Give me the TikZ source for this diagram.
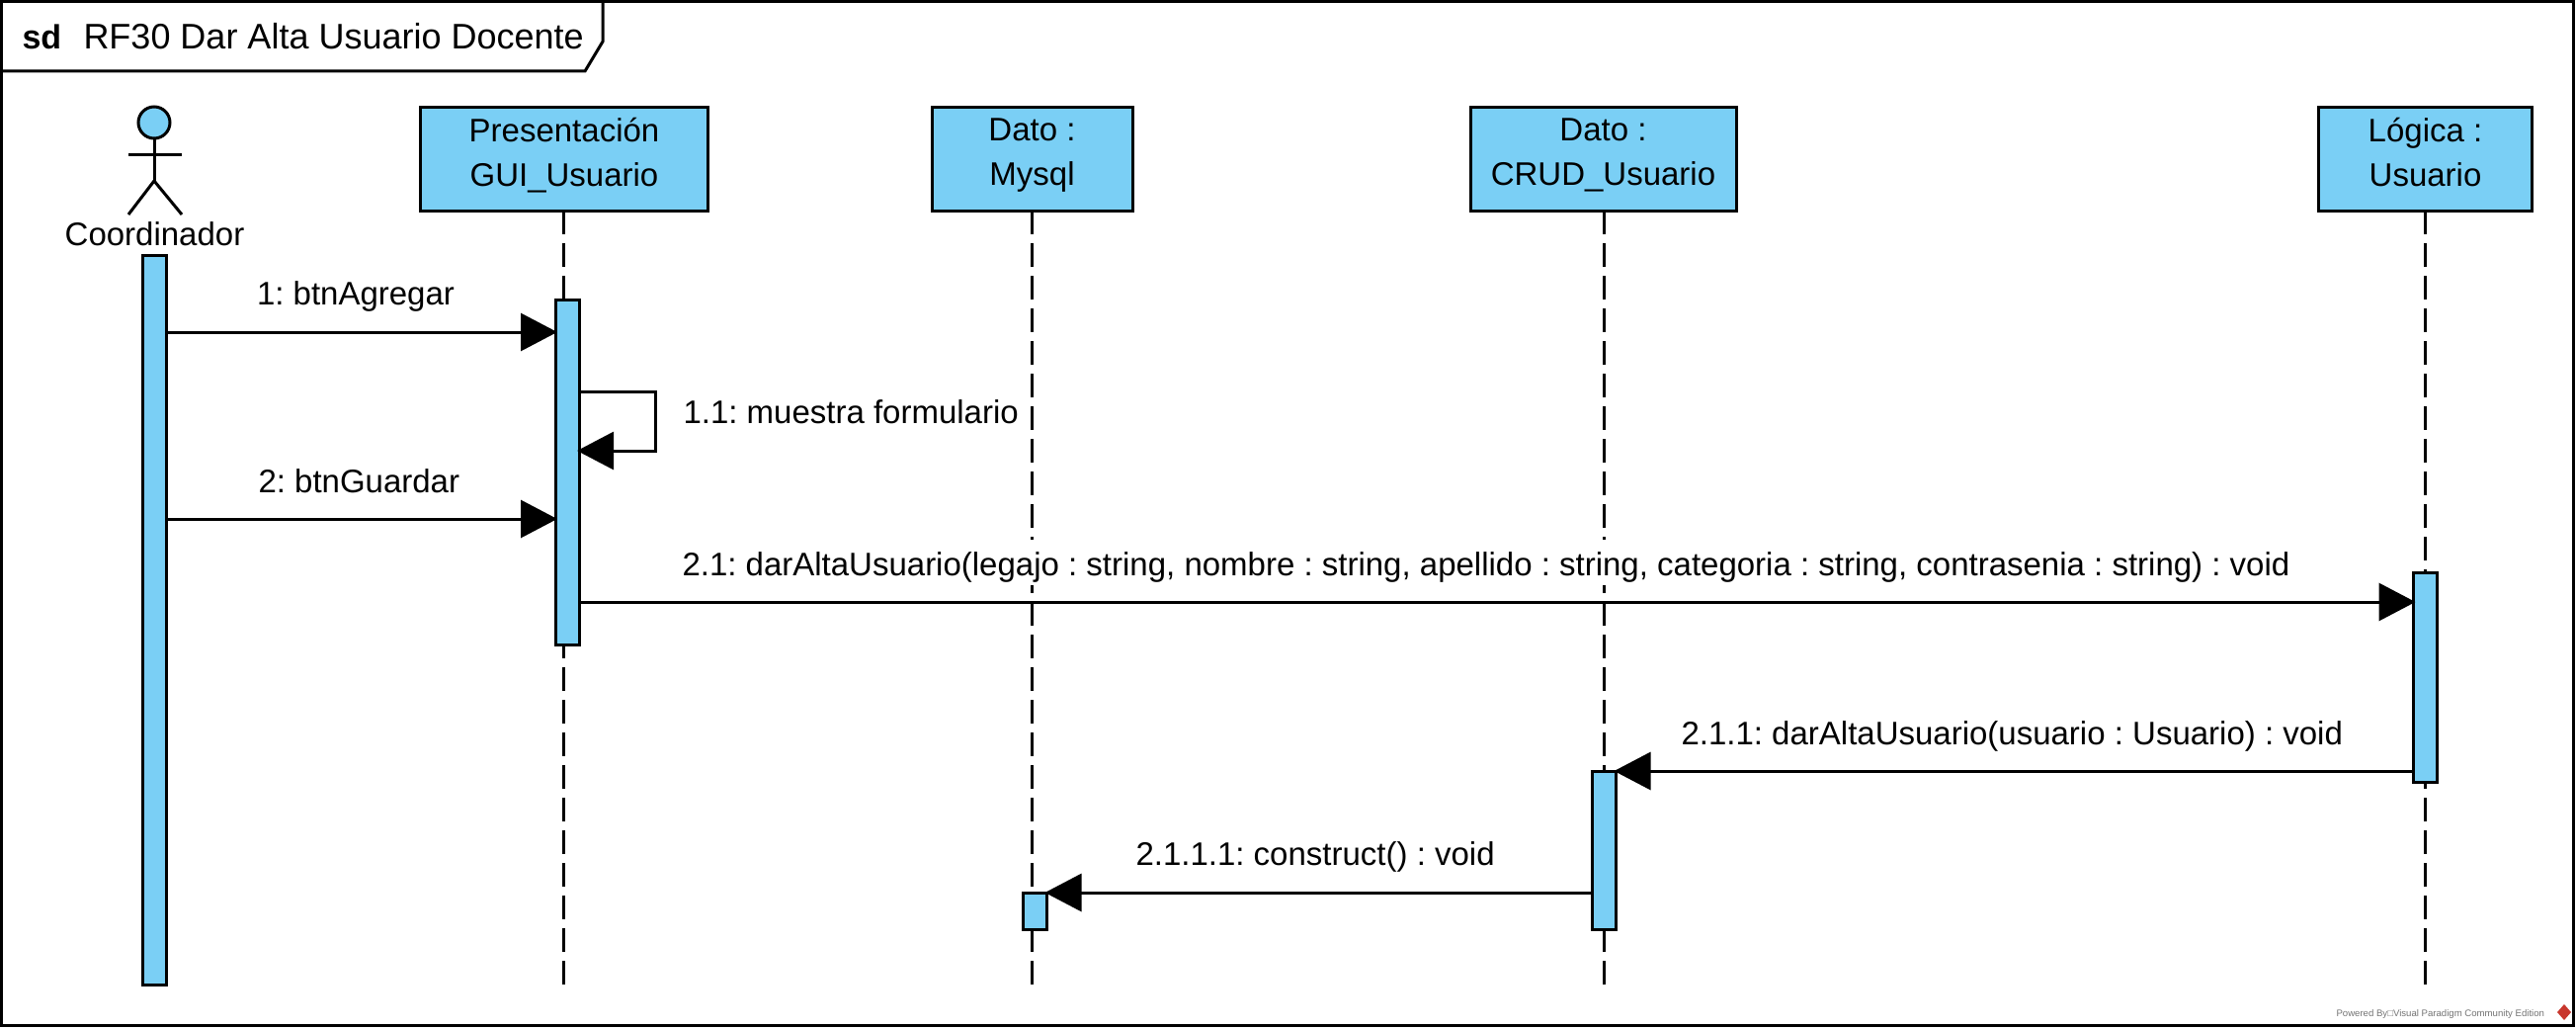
\documentclass[tikz,border=0pt]{standalone}
\usepackage{fontspec}
\setmainfont{Liberation Sans}
\frenchspacing
\usepackage{tikz}
\usetikzlibrary{arrows.meta}
\definecolor{barblue}{HTML}{7ACFF5}
\definecolor{vplogo}{HTML}{C8372D}
\tikzset{vertex/.style={draw,fill=barblue,line width=3pt,inner sep=0pt,outer sep=0pt,align=center,minimum height=105pt,font=\fontsize{33}{45}\selectfont,execute at begin node={\rule{0pt}{34.5pt}},execute at end node={\strut}}}
\tikzset{actbar/.style={draw,fill=barblue,line width=3pt,inner sep=0pt,outer sep=0pt,minimum width=24pt}}
\tikzset{lifeline/.style={line width=3pt,dash pattern=on 24pt off 9pt}}
\tikzset{msg/.style={line width=3pt,shorten >=-2pt,-{Triangle[length=37pt,width=38pt,sep=0pt]}}}
\tikzset{msglabel/.style={anchor=base west,fill=white,inner sep=0pt,text height=36pt,text depth=10pt,font=\fontsize{33}{36}\selectfont}}

\begin{document}
\begin{tikzpicture}
[x=1pt, y=-1pt, line width=3pt]
\useasboundingbox (0,0) rectangle (2607,1041);
\node (frame) at (1303,519.5)[draw,line width=3pt,minimum width=2603pt,minimum height=1036pt,inner sep=0pt]{};
\coordinate (tabl) at (1.5,72);
\coordinate (tabb) at (592,72);
\coordinate (tabs) at (610,42);
\coordinate (tabt) at (610,1.5);
\draw (tabl) -- (tabb) -- (tabs) -- (tabt);
\node (sd) at (21,50)[anchor=base west,inner sep=0pt,font=\fontsize{34}{36}\selectfont\bfseries]{sd};
\node (title) at (83,50)[anchor=base west,inner sep=0pt,font=\fontsize{36}{38}\selectfont]{RF30 Dar Alta Usuario Docente};

\node (head) at (156,124)[draw,fill=barblue,circle,line width=3pt,minimum size=32pt,inner sep=0pt,outer sep=0pt]{};
\coordinate (hip) at (156,183);
\coordinate (arml) at (130,156);
\coordinate (armr) at (184,156);
\coordinate (footl) at (130,217);
\coordinate (footr) at (184,217);
\draw (head) -- (hip);
\draw (arml) -- (armr);
\draw (footl) -- (hip) -- (footr);
\node (actor) at (156.5,248)[anchor=base,inner sep=0pt,font=\fontsize{33}{36}\selectfont]{Coordinador};

\node (gui) at (571,160.5)[vertex,minimum width=291pt]{Presentación\\GUI\_Usuario};
\node (mysql) at (1044.5,160.5)[vertex,minimum width=203pt]{Dato :\\Mysql};
\node (crud) at (1622.5,160.5)[vertex,minimum width=269pt]{Dato :\\CRUD\_Usuario};
\node (logica) at (2454.5,160.5)[vertex,minimum width=216pt]{Lógica :\\Usuario};

\coordinate (guiend) at (570,997);
\coordinate (mysqlend) at (1044,997);
\coordinate (crudend) at (1623,997);
\coordinate (logicaend) at (2454,997);
\draw[lifeline] (gui.south -| guiend) -- (guiend);
\draw[lifeline] (mysql.south -| mysqlend) -- (mysqlend);
\draw[lifeline] (crud.south -| crudend) -- (crudend);
\draw[lifeline] (logica.south -| logicaend) -- (logicaend);

\node (actorbar) at (156,627)[actbar,minimum height=738pt]{};
\node (guibar) at (574,477.5)[actbar,minimum height=349pt]{};
\node (mysqlbar) at (1047.5,921.5)[actbar,minimum height=37pt]{};
\node (crudbar) at (1623.5,860)[actbar,minimum height=160pt]{};
\node (logicabar) at (2454.5,685)[actbar,minimum height=212pt]{};

\node (m1text) at (258.5,308)[msglabel]{1: btnAgregar};
\node (m2text) at (690,428)[msglabel]{1.1: muestra formulario};
\node (m3text) at (260,498)[msglabel]{2: btnGuardar};
\node (m4text) at (689,582)[msglabel]{2.1: darAltaUsuario(legajo : string, nombre : string, apellido : string, categoria : string, contrasenia : string) : void};
\node (m5text) at (1700,753)[msglabel]{2.1.1: darAltaUsuario(usuario : Usuario) : void};
\node (m6text) at (1148,875)[msglabel]{2.1.1.1: construct() : void};

\coordinate (m1) at (0,336);
\coordinate (m2a) at (0,396);
\coordinate (m2b) at (0,456);
\coordinate (m3) at (0,525);
\coordinate (m4) at (0,609);
\coordinate (m5) at (0,780);
\coordinate (m6) at (0,903);
\coordinate (loopx) at (663,0);

\draw[msg] (actorbar.east |- m1) -- (guibar.west |- m1);
\draw[msg] (guibar.east |- m2a) -- (loopx |- m2a) -- (loopx |- m2b) -- (guibar.east |- m2b);
\draw[msg] (actorbar.east |- m3) -- (guibar.west |- m3);
\draw[msg] (guibar.east |- m4) -- (logicabar.west |- m4);
\draw[msg] (logicabar.west |- m5) -- (crudbar.east |- m5);
\draw[msg] (crudbar.west |- m6) -- (mysqlbar.east |- m6);

\node (powered) at (2363,1028)[anchor=base west,inner sep=0pt,text=black!55,font=\fontsize{9.6}{10}\selectfont]{Powered By□Visual Paradigm Community Edition};
\fill[vplogo] (2595,1016) -- (2602,1024) -- (2595,1032) -- (2588,1024) -- cycle;
\end{tikzpicture}
\end{document}
